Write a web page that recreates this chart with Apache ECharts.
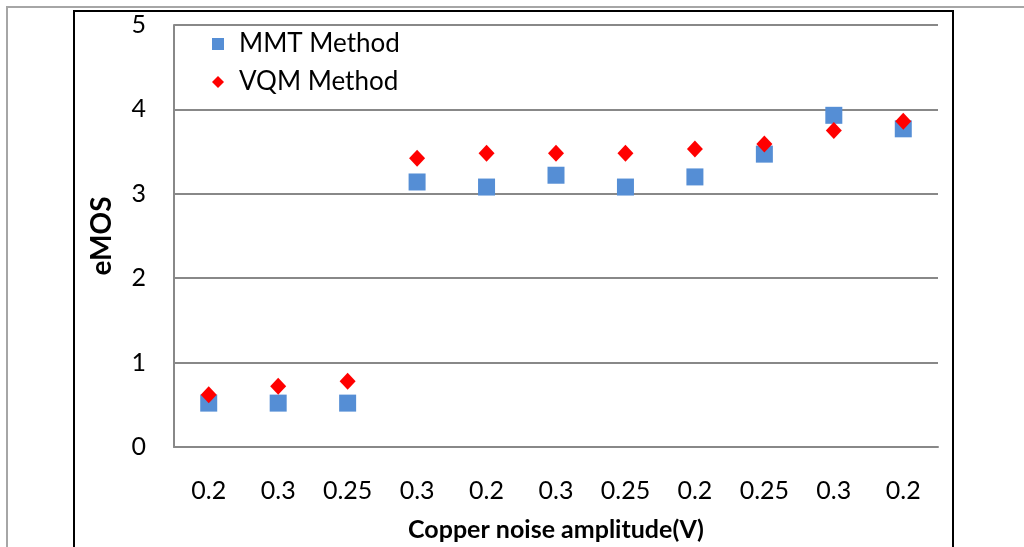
<!DOCTYPE html>
<html>
<head>
<meta charset="utf-8">
<script src="https://cdn.jsdelivr.net/npm/echarts@6/dist/echarts.min.js"></script>
<style>
html,body{margin:0;padding:0;background:#fff;}
#chart{width:1024px;height:547px;}
</style>
</head>
<body>
<div id="chart"></div>
<script>
const categories = ['0.2','0.3','0.25','0.3','0.2','0.3','0.25','0.2','0.25','0.3','0.2'];
const mmtValues = [0.52,0.52,0.52,3.14,3.08,3.22,3.08,3.20,3.47,3.93,3.77];
const vqmValues = [0.62,0.72,0.78,3.42,3.48,3.48,3.48,3.53,3.59,3.75,3.86];
const yTicks = [0,1,2,3,4,5];

const FONT = 'Lato, "Open Sans", sans-serif';
const chart = echarts.init(document.getElementById('chart'), null, {renderer:'canvas'});
chart.setOption({
  animation: false,
  backgroundColor: '#fff',
  textStyle: {fontFamily: FONT},
  graphic: [
    {type:'polyline', shape:{points:[[7,547],[7,7],[1024,7]]}, style:{stroke:'#a6a6a6', lineWidth:2, fill:null}, z:0},
    {type:'polyline', shape:{points:[[74,547],[74,11],[953,11],[953,547]]}, style:{stroke:'#000', lineWidth:2, fill:null}, z:0}
  ],
  grid: {left:174, right:86, top:25, bottom:100, containLabel:false, outerBoundsMode:'none'},
  legend: {
    orient:'vertical', left:207, top:26, itemGap:12,
    itemWidth:12, itemHeight:12,
    textStyle:{fontFamily:FONT, fontSize:26, color:'#000', padding:[0,0,0,10]},
    data:[{name:'MMT Method', icon:'rect', itemStyle:{opacity:1}},{name:'VQM Method', icon:'diamond', itemStyle:{opacity:1}}]
  },
  xAxis: {
    type:'category', data:categories, boundaryGap:true,
    axisLine:{lineStyle:{color:'#888', width:2}},
    axisTick:{show:false},
    axisLabel:{fontFamily:FONT, fontSize:25, color:'#000', margin:31, interval:0},
    name:'Copper noise amplitude(V)', nameLocation:'middle', nameGap:70,
    nameTextStyle:{fontFamily:FONT, fontSize:25, fontWeight:'bold', color:'#000'}
  },
  yAxis: {
    type:'value', min:yTicks[0], max:yTicks[yTicks.length-1], interval:1,
    axisLine:{show:true, lineStyle:{color:'#888', width:2}},
    axisTick:{show:false},
    splitLine:{lineStyle:{color:'#888', width:2}},
    axisLabel:{fontFamily:FONT, fontSize:25, color:'#000', margin:28},
    name:'eMOS', nameLocation:'middle', nameGap:58,
    nameTextStyle:{fontFamily:FONT, fontSize:28, fontWeight:'bold', color:'#000'}
  },
  series: [
    {name:'MMT Method', type:'scatter', data:mmtValues, symbol:'rect', symbolSize:17,
     itemStyle:{color:'#558ed5', opacity:1}},
    {name:'VQM Method', type:'scatter', data:vqmValues, symbol:'diamond', symbolSize:[16,17],
     itemStyle:{color:'#ff0000', opacity:1}}
  ]
});
</script>
</body>
</html>
